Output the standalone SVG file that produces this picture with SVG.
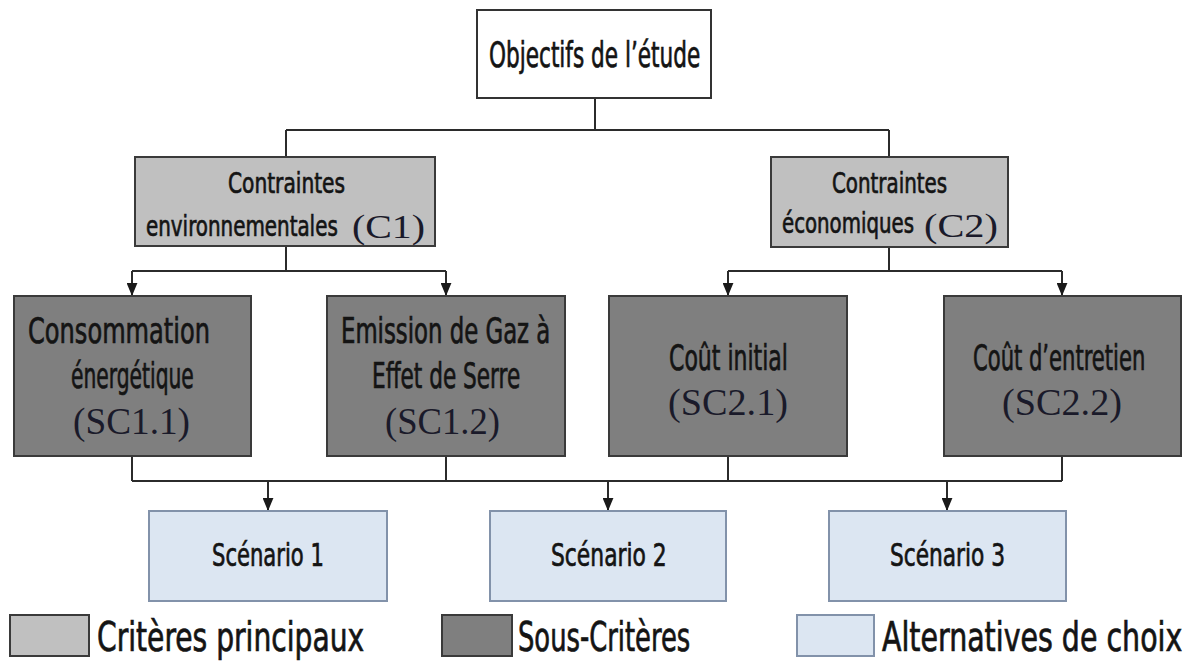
<svg xmlns="http://www.w3.org/2000/svg" width="1195" height="664" viewBox="0 0 1195 664">
<style>
.t{font-family:"DejaVu Sans Condensed","DejaVu Sans",sans-serif;font-stretch:condensed;fill:#141414;stroke:#141414;stroke-width:0.7;}
.s{font-family:"Liberation Serif","Times New Roman",serif;fill:#1a1a2a;}
.ln{fill:none;stroke:#2b2b2b;stroke-width:2;}
.w{fill:#ffffff;stroke:#333333;stroke-width:2;}
.c{fill:#c0c0c0;stroke:#3a3a3a;stroke-width:2;}
.sc{fill:#7f7f7f;stroke:#3a3a3a;stroke-width:2;}
.a{fill:#dce6f2;stroke:#8292aa;stroke-width:2;}
</style>
<defs>
<marker id="arr" viewBox="0 0 12 10" refX="12" refY="5" markerWidth="13" markerHeight="11" markerUnits="userSpaceOnUse" orient="auto">
<path d="M0,0 L12,5 L0,10 z" fill="#1a1a1a"/>
</marker>
</defs>
<rect width="1195" height="664" fill="#ffffff"/>

<g id="connectors">
<path class="ln" d="M595,98 V130 M286,130 H889 M286,130 V157 M889,130 V157"/>
<path class="ln" d="M286,246 V271 M132,271 H446 M889,247 V271 M728,271 H1062"/>
<path class="ln" marker-end="url(#arr)" d="M132,271 V296"/>
<path class="ln" marker-end="url(#arr)" d="M446,271 V296"/>
<path class="ln" marker-end="url(#arr)" d="M728,271 V296"/>
<path class="ln" marker-end="url(#arr)" d="M1062,271 V296"/>
<path class="ln" d="M132,456 V481 M446,456 V481 M728,456 V481 M1062,456 V481 M132,481 H1062"/>
<path class="ln" marker-end="url(#arr)" d="M268,481 V511"/>
<path class="ln" marker-end="url(#arr)" d="M608,481 V511"/>
<path class="ln" marker-end="url(#arr)" d="M947,481 V511"/>
</g>

<g id="objectifs">
<rect class="w" x="477" y="10" width="234" height="88"/>
<text class="t" transform="translate(489,67) scale(0.65,1)" font-size="36" textLength="325" lengthAdjust="spacingAndGlyphs">Objectifs de l’étude</text>
</g>

<g id="c1">
<rect class="c" x="135" y="157" width="300" height="89"/>
<text class="t" transform="translate(228,193) scale(0.65,1)" font-size="29" textLength="180" lengthAdjust="spacingAndGlyphs">Contraintes</text>
<text class="t" transform="translate(146,236) scale(0.65,1)" font-size="29" textLength="295" lengthAdjust="spacingAndGlyphs">environnementales</text>
<text class="s" x="352" y="238" font-size="33" textLength="73" lengthAdjust="spacingAndGlyphs">(C1)</text>
</g>

<g id="c2">
<rect class="c" x="771" y="157" width="237" height="90"/>
<text class="t" transform="translate(832,193) scale(0.65,1)" font-size="29" textLength="177" lengthAdjust="spacingAndGlyphs">Contraintes</text>
<text class="t" transform="translate(782,233) scale(0.65,1)" font-size="29" textLength="203" lengthAdjust="spacingAndGlyphs">économiques</text>
<text class="s" x="924" y="237" font-size="33" textLength="74" lengthAdjust="spacingAndGlyphs">(C2)</text>
</g>

<g id="sc11">
<rect class="sc" x="14" y="296" width="237" height="160"/>
<text class="t" transform="translate(28,343) scale(0.65,1)" font-size="36" textLength="280" lengthAdjust="spacingAndGlyphs">Consommation</text>
<text class="t" transform="translate(71,388) scale(0.65,1)" font-size="36" textLength="189" lengthAdjust="spacingAndGlyphs">énergétique</text>
<text class="s" x="73" y="434" font-size="37" textLength="117" lengthAdjust="spacingAndGlyphs">(SC1.1)</text>
</g>

<g id="sc12">
<rect class="sc" x="327" y="296" width="238" height="160"/>
<text class="t" transform="translate(341,343) scale(0.65,1)" font-size="36" textLength="322" lengthAdjust="spacingAndGlyphs">Emission de Gaz à</text>
<text class="t" transform="translate(372,388) scale(0.65,1)" font-size="36" textLength="228" lengthAdjust="spacingAndGlyphs">Effet de Serre</text>
<text class="s" x="385" y="434" font-size="37" textLength="115" lengthAdjust="spacingAndGlyphs">(SC1.2)</text>
</g>

<g id="sc21">
<rect class="sc" x="609" y="296" width="238" height="160"/>
<text class="t" transform="translate(669,370) scale(0.65,1)" font-size="36" textLength="183" lengthAdjust="spacingAndGlyphs">Coût initial</text>
<text class="s" x="668" y="415" font-size="37" textLength="120" lengthAdjust="spacingAndGlyphs">(SC2.1)</text>
</g>

<g id="sc22">
<rect class="sc" x="944" y="296" width="237" height="160"/>
<text class="t" transform="translate(973,370) scale(0.65,1)" font-size="36" textLength="265" lengthAdjust="spacingAndGlyphs">Coût d’entretien</text>
<text class="s" x="1002" y="415" font-size="37" textLength="120" lengthAdjust="spacingAndGlyphs">(SC2.2)</text>
</g>

<g id="scenario1">
<rect class="a" x="149" y="511" width="238" height="90"/>
<text class="t" transform="translate(212,566) scale(0.65,1)" font-size="32" textLength="172" lengthAdjust="spacingAndGlyphs">Scénario 1</text>
</g>

<g id="scenario2">
<rect class="a" x="490" y="511" width="236" height="90"/>
<text class="t" transform="translate(551,566) scale(0.65,1)" font-size="32" textLength="178" lengthAdjust="spacingAndGlyphs">Scénario 2</text>
</g>

<g id="scenario3">
<rect class="a" x="829" y="511" width="237" height="90"/>
<text class="t" transform="translate(890,566) scale(0.65,1)" font-size="32" textLength="177" lengthAdjust="spacingAndGlyphs">Scénario 3</text>
</g>

<g id="legend">
<rect class="c" x="10" y="615" width="79" height="41" stroke="#808080"/>
<text class="t" transform="translate(97,651) scale(0.65,1)" font-size="40" textLength="411" lengthAdjust="spacingAndGlyphs">Critères principaux</text>
<rect class="sc" x="442" y="615" width="70" height="41" stroke="#555555"/>
<text class="t" transform="translate(518,651) scale(0.65,1)" font-size="40" textLength="265" lengthAdjust="spacingAndGlyphs">Sous-Critères</text>
<rect class="a" x="797" y="615" width="77" height="41"/>
<text class="t" transform="translate(882,651) scale(0.65,1)" font-size="40" textLength="462" lengthAdjust="spacingAndGlyphs">Alternatives de choix</text>
</g>
</svg>
